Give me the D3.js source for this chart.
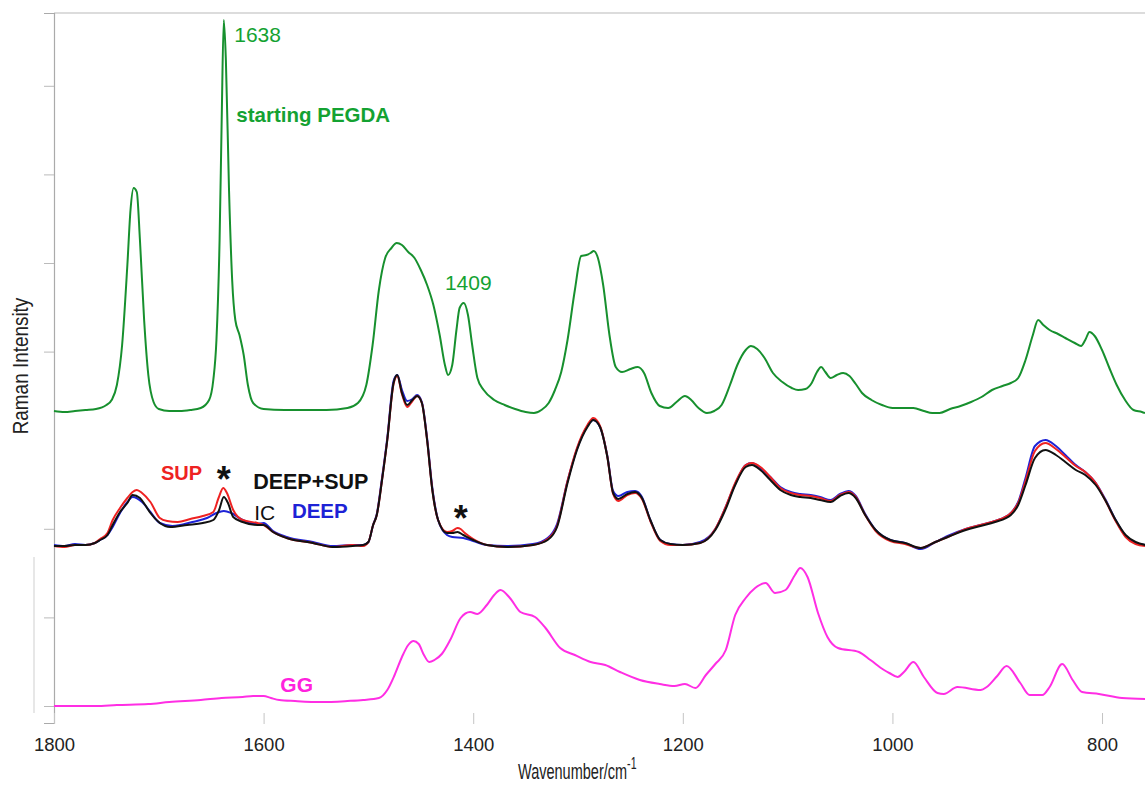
<!DOCTYPE html>
<html>
<head>
<meta charset="utf-8">
<script src="https://d3js.org/d3.v7.min.js"></script>
<style>
  body { margin: 0; background: #fff; }
  text { font-family: "Liberation Sans", Arial, sans-serif; }
</style>
</head>
<body>
<svg id="chart" width="1145" height="785"></svg>
<script>
// spectra: [wavenumber (cm-1), intensity (a.u., stacked with offsets)]
const pegda = [
  [1800,295],[1790,294],[1780,295],[1770,296],[1760,297],[1750,301],[1745,306],[1740,321],[1735,361],
  [1730,441],[1727,496],[1724,518],[1721,514],[1718,466],[1714,386],[1710,331],[1705,304],[1700,297],
  [1690,295],[1680,295],[1670,296],[1660,298],[1652,306],[1648,326],[1645,366],[1642,466],[1640,586],
  [1638,686],[1636,646],[1633,516],[1630,426],[1627,386],[1623,371],[1619,351],[1615,321],[1610,303],
  [1600,297],[1580,296],[1560,296],[1540,296],[1520,298],[1510,303],[1502,321],[1496,361],[1490,416],
  [1484,448],[1478,458],[1473,463],[1468,461],[1462,454],[1456,448],[1450,436],[1444,421],[1438,401],
  [1432,371],[1427,341],[1424,331],[1420,341],[1416,376],[1413,398],[1409,403],[1405,391],[1401,361],
  [1396,328],[1390,316],[1380,306],[1370,301],[1360,297],[1350,294],[1342,293],[1335,296],[1328,303],
  [1322,316],[1316,334],[1310,366],[1303,416],[1297,450],[1292,451],[1288,453],[1285,455],[1281,448],
  [1276,421],[1270,371],[1264,339],[1258,334],[1250,337],[1243,339],[1237,333],[1230,313],[1222,300],
  [1214,298],[1206,304],[1198,310],[1192,306],[1185,298],[1177,293],[1170,295],[1163,301],[1155,321],
  [1148,341],[1140,356],[1135,360],[1129,357],[1122,348],[1114,333],[1105,324],[1096,318],[1090,316],
  [1083,317],[1077,323],[1072,334],[1068,339],[1064,334],[1059,328],[1053,331],[1047,333],[1041,330],
  [1035,322],[1029,313],[1020,306],[1010,301],[1000,298],[990,298],[980,298],[970,295],[962,293],
  [955,293],[945,297],[935,300],[925,304],[915,309],[905,316],[895,320],[887,323],[880,328],[873,346],
  [866,371],[861,386],[856,381],[850,376],[842,372],[835,368],[826,363],[820,360],[816,366],[812,374],
  [807,370],[800,356],[793,338],[786,321],[778,306],[770,296],[762,294],[759,293]
];

const deepSup = [
  [1800,160],[1790,160],[1780,161],[1770,161],[1761,163],[1756,166],[1749,171],[1744,181],[1737,194],
  [1730,203],[1725,211],[1718,208],[1713,201],[1708,193],[1699,183],[1689,179],[1673,181],[1658,183],
  [1648,186],[1642.5,196],[1638,209],[1634,203],[1629,189],[1620,184],[1606,181],[1600,181],[1591,174],
  [1578,168],[1553,163],[1534,159],[1515,160],[1505,161],[1500,164],[1495.5,181],[1492,191],[1487,226],
  [1482,266],[1476,323],[1472.5,331],[1468,313],[1463,301],[1458,306],[1453.5,310],[1449,303],[1444,266],
  [1439,216],[1433.5,186],[1425,173],[1420,173],[1415,174],[1409.5,171],[1400,166],[1387,161],[1367.5,159],
  [1343,161],[1329,166],[1320,179],[1310,223],[1301,256],[1291,279],[1285.5,286],[1279,279],[1272,249],
  [1266.5,213],[1261.5,207],[1253,212],[1245.5,214],[1239,208],[1231,186],[1221.5,166],[1212,162],
  [1200,161],[1183.5,163],[1169,176],[1159.5,196],[1150,221],[1140,239],[1134,241],[1126,236],
  [1116.5,226],[1107,216],[1097,211],[1088,209],[1078,208],[1069,206],[1059,204],[1050,210],[1042,213],
  [1035,208],[1026,191],[1016,176],[1002,166],[988,163],[973,158],[959,164],[945,170],[930,176],
  [916,180],[902,184],[887,191],[880,201],[873,221],[864,248],[854,256],[844,251],[835,244],[825,236],
  [816,231],[806,221],[797,206],[787,186],[777.5,171],[768,164],[758.5,161]
];

const sup = [
  [1800,160],[1790,159],[1780,161],[1770,161],[1761,163],[1756,167],[1749,173],[1744,186],[1737,198],
  [1730,208],[1725,214],[1721,216],[1716,213],[1708,204],[1699,188],[1692,185],[1682,184],[1670,187],
  [1658,190],[1648,194],[1643,208],[1638.5,218],[1635,213],[1629,196],[1620,186],[1606,183],[1600,181],
  [1591,174],[1578,168],[1553,163],[1534,159],[1515,161],[1505,160],[1500,164],[1495.5,181],[1492,191],
  [1487,226],[1482,266],[1476,322],[1472.5,330],[1468,312],[1463,299],[1458,305],[1453.5,310],[1449,303],
  [1444,266],[1439,216],[1433.5,186],[1425,174],[1420,175],[1415,178],[1412,177],[1408,173],[1400,167],
  [1387,161],[1367.5,159],[1343,161],[1329,167],[1320,180],[1310,225],[1301,258],[1291,281],[1285.5,288],
  [1279,280],[1272,249],[1266.5,212],[1261.5,205],[1253,211],[1245.5,213],[1239,207],[1231,185],
  [1221.5,165],[1212,161],[1200,161],[1183.5,163],[1169,177],[1159.5,198],[1150,223],[1140,241],
  [1134,243],[1126,239],[1116.5,229],[1107,218],[1097,213],[1088,211],[1078,210],[1069,208],[1059,205],
  [1050,211],[1042,214],[1035,209],[1026,191],[1016,175],[1002,165],[988,162],[973,158],[959,164],
  [945,170],[930,177],[916,181],[902,185],[887,193],[880,203],[873,225],[864,255],[854,263],[844,257],
  [835,249],[825,240],[816,234],[806,223],[797,206],[787,185],[777.5,169],[768,162],[758.5,160]
];

const deep = [
  [1800,161],[1790,160],[1780,162],[1770,161],[1761,163],[1756,166],[1749,171],[1744,179],[1737,193],
  [1730,204],[1725,209],[1716,204],[1708,194],[1699,183],[1687,180],[1668,184],[1654,188],[1645,193],
  [1638,195],[1631,193],[1620,186],[1606,182],[1600,183],[1591,175],[1578,169],[1553,164],[1534,160],
  [1515,161],[1505,161],[1500,164],[1495.5,181],[1492,192],[1487,228],[1482,268],[1476,325],[1472.5,331],
  [1468,316],[1463,305],[1458,307],[1453.5,311],[1449,304],[1444,268],[1439,218],[1433.5,186],[1425,171],
  [1420,169],[1409.5,168],[1400,165],[1387,161],[1367.5,160],[1343,162],[1329,168],[1320,182],[1310,225],
  [1301,257],[1291,280],[1285.5,286],[1279,279],[1272,250],[1266.5,215],[1261.5,210],[1253,214],
  [1245.5,215],[1239,209],[1231,186],[1221.5,166],[1212,162],[1200,161],[1183.5,164],[1169,177],
  [1159.5,198],[1150,222],[1140,241],[1134,243],[1126,238],[1116.5,229],[1107,219],[1097,214],
  [1088,212],[1078,211],[1069,209],[1059,206],[1050,212],[1042,215],[1035,210],[1026,192],[1016,176],
  [1002,166],[988,163],[973,157],[959,164],[945,171],[930,177],[916,181],[902,185],[887,193],[880,204],
  [873,228],[864,260],[854,266],[844,260],[835,251],[825,241],[816,234],[806,223],[797,207],[787,186],
  [777.5,170],[768,163],[758.5,161]
];

const gg = [
  [1800,0],[1790,0],[1760,0],[1740,1],[1710,2],[1690,4],[1660,6],[1640,8],[1620,9],[1610,10],[1600,10],
  [1593,8],[1585,6],[1570,5],[1545,4],[1520,5],[1505,6],[1490,8],[1482,16],[1475,31],[1468,49],
  [1462,61],[1457,65],[1452,62],[1447,51],[1442,44],[1437,46],[1430,52],[1422,66],[1412,88],[1403,94],
  [1396,92],[1387,101],[1380,111],[1374,116],[1365,108],[1355,94],[1341,89],[1331,78],[1317,58],
  [1303,51],[1288,44],[1274,41],[1260,34],[1241,26],[1222,22],[1208,20],[1198,22],[1188,18],[1178,31],
  [1169,42],[1159,56],[1150,91],[1140,108],[1131,118],[1121,123],[1112,113],[1102,116],[1093,131],
  [1088,138],[1081,129],[1071,93],[1062,69],[1052,58],[1032,54],[1021,46],[1008,36],[1003,33],[995,29],
  [989,34],[980,44],[970,29],[957,13],[951,12],[938,19],[916,16],[910,19],[900,30],[891,40],[878,23],
  [869,11],[857,11],[850,19],[838,42],[828,26],[819,14],[803,12],[781,8],[759,7]
];

const seriesNames = ["starting PEGDA", "SUP", "DEEP", "DEEP+SUP", "GG"];
const seriesData = [pegda, sup, deep, deepSup, gg];
const seriesColors = ["#17902e", "#ee2222", "#1d22d6", "#111111", "#ff2ee4"];

const xTicks = [1800, 1600, 1400, 1200, 1000, 800];
const yTicks = [0, 88.6, 177.2, 354.4, 443, 531.6, 620.2];

const svg = d3.select("svg#chart");
const x = d3.scaleLinear().domain([1800, 759]).range([54, 1145]);
const y = d3.scaleLinear().domain([-17, 693]).range([723, 13]);

// frame: top border and left axis
svg.append("line").attr("x1", 54).attr("x2", 1145).attr("y1", 13).attr("y2", 13)
   .attr("stroke", "#dcdcdc").attr("stroke-width", 2);
svg.append("line").attr("x1", 34).attr("x2", 34).attr("y1", 557).attr("y2", 713)
   .attr("stroke", "#cfcfcf").attr("stroke-width", 1);

const yAxis = svg.append("g").attr("transform", "translate(54,0)")
   .call(d3.axisLeft(y).tickValues(yTicks).tickSize(10).tickFormat(""));
yAxis.select(".domain").attr("stroke", "#aaaaaa").attr("stroke-width", 1.2);
yAxis.selectAll(".tick line").attr("stroke", "#bbbbbb");

const xAxis = svg.append("g").attr("transform", "translate(0,713)")
   .call(d3.axisBottom(x).tickValues(xTicks).tickSize(11).tickPadding(14).tickFormat(d3.format("d")));
xAxis.select(".domain").remove();
xAxis.selectAll(".tick line").attr("stroke", "#c4c4c4");
xAxis.selectAll(".tick text").attr("font-size", 18.5).attr("fill", "#222")
   .attr("font-family", "'Liberation Sans', Arial, sans-serif");

// spectra
const line = d3.line().x(d => x(d[0])).y(d => y(d[1])).curve(d3.curveMonotoneX);
const order = [0, 4, 2, 1, 3];
svg.append("g").selectAll("path.spec").data(order).join("path")
   .attr("class", "spec")
   .attr("d", i => line(seriesData[i]))
   .attr("fill", "none")
   .attr("stroke", i => seriesColors[i])
   .attr("stroke-width", 2)
   .attr("stroke-linejoin", "round");

// annotations
function label(txt, wn, val, color, size, weight) {
  return svg.append("text").attr("x", x(wn)).attr("y", y(val))
    .attr("fill", color).attr("font-size", size).attr("font-weight", weight || "normal").text(txt);
}
label("1638", 1628, 664, "#14a232", 21);
label("starting PEGDA", 1626, 584, "#14a232", 20.5, "bold");
label("1409", 1427, 416, "#14a232", 21);
label("SUP", 1698, 226, "#ee2222", 20, "bold");
label("DEEP+SUP", 1610, 217, "#111", 21.5, "bold");
label("IC", 1609, 186, "#111", 21);
label("DEEP", 1573, 188, "#1d22d6", 20.5, "bold");
label("GG", 1584, 14, "#ff22dd", 21, "bold");
label("*", 1638, 214, "#111", 36, "bold").attr("text-anchor", "middle");
label("*", 1412, 175, "#111", 36, "bold").attr("text-anchor", "middle");

// axis titles (condensed like the original)
svg.append("text").attr("transform", "translate(518,779) scale(0.66,1)")
   .attr("font-size", 22).attr("fill", "#222")
   .text("Wavenumber/cm")
   .append("tspan").attr("dy", -10).attr("font-size", 16).text("-1");
svg.append("text").attr("transform", "translate(28,366) rotate(-90) scale(0.86,1)")
   .attr("text-anchor", "middle")
   .attr("font-size", 22).attr("fill", "#222")
   .text("Raman Intensity");
</script>
</body>
</html>
